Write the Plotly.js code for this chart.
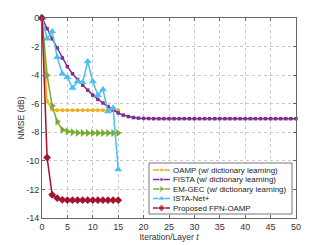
<!DOCTYPE html>
<html>
<head>
<meta charset="utf-8">
<script src="https://cdn.plot.ly/plotly-3.0.1.min.js"></script>
<style>html,body{margin:0;padding:0;background:#fff;}#chart{width:327px;height:245px;}</style>
</head>
<body>
<div id="chart"></div>
<script>
const tShort = [0,1,2,3,4,5,6,7,8,9,10,11,12,13,14,15];
const tLong = [0,1,2,3,4,5,6,7,8,9,10,11,12,13,14,15,16,17,18,19,20,21,22,23,24,25,26,27,28,29,30,31,32,33,34,35,36,37,38,39,40,41,42,43,44,45,46,47,48,49,50];
const oampVals = [0,-5.85,-6.4,-6.45,-6.45,-6.45,-6.45,-6.45,-6.45,-6.45,-6.45,-6.45,-6.45,-6.45,-6.45,-6.45];
const fistaVals = [0,-0.75,-1.45,-2.1,-2.8,-3.4,-3.9,-4.3,-4.7,-5.05,-5.4,-5.7,-5.95,-6.2,-6.45,-6.65,-6.8,-6.9,-6.97,-7.01,-7.03,-7.04,-7.05,-7.05,-7.05,-7.05,-7.05,-7.05,-7.05,-7.05,-7.05,-7.05,-7.05,-7.05,-7.05,-7.05,-7.05,-7.05,-7.05,-7.05,-7.05,-7.05,-7.05,-7.05,-7.05,-7.05,-7.05,-7.05,-7.05,-7.05,-7.05];
const emgecVals = [0,-4.0,-6.15,-7.25,-7.83,-7.95,-8.0,-8.03,-8.05,-8.05,-8.05,-8.05,-8.05,-8.05,-8.05,-8.05];
const istaVals = [0,-1.45,-0.95,-2.75,-3.9,-4.15,-4.9,-4.45,-4.5,-3.05,-4.45,-5.4,-5.0,-6.55,-6.3,-10.6];
const fpnVals = [0,-9.77,-12.38,-12.61,-12.73,-12.75,-12.75,-12.75,-12.75,-12.75,-12.75,-12.75,-12.75,-12.75,-12.75,-12.75];
const names = ['OAMP (w/ dictionary learning)','FISTA (w/ dictionary learning)','EM-GEC (w/ dictionary learning)','ISTA-Net+','Proposed FPN-OAMP'];
const xTicks = [0,5,10,15,20,25,30,35,40,45,50];
const yTicks = [0,-2,-4,-6,-8,-10,-12,-14];

const font = 'Liberation Sans, Arial, sans-serif';
const styles = [
  {color: '#EDB120', symbol: 'circle', size: 4},
  {color: '#7E2F8E', symbol: 'square', size: 3.5},
  {color: '#77AC30', symbol: 'triangle-right', size: 7},
  {color: '#4DBEEE', symbol: 'triangle-up', size: 7},
  {color: '#A2142F', symbol: 'diamond', size: 6}
];
const series = [[tShort, oampVals],[tLong, fistaVals],[tShort, emgecVals],[tShort, istaVals],[tShort, fpnVals]];
const data = series.map((s, i) => ({
  x: s[0], y: s[1], name: names[i], type: 'scatter', mode: 'lines+markers',
  line: {color: styles[i].color, width: 1.5},
  marker: {color: styles[i].color, symbol: styles[i].symbol, size: styles[i].size},
  cliponaxis: false, showlegend: false
}));

// custom compact legend on an overlay axis measured in pixels of the plot area
const legX0 = 107, legX1 = 250, legY0 = 4, legY1 = 55;
const sampleX = [111, 119.5, 128];
const rowY = [48, 38.5, 29, 19.5, 10];
data.push({x: [legX0, legX1, legX1, legX0, legX0], y: [legY0, legY0, legY1, legY1, legY0],
  xaxis: 'x2', yaxis: 'y2', type: 'scatter', mode: 'lines', fill: 'toself', fillcolor: '#ffffff',
  line: {color: '#777', width: 1}, showlegend: false, hoverinfo: 'skip'});
const annotations = [];
names.forEach((n, i) => {
  data.push({x: sampleX, y: [rowY[i], rowY[i], rowY[i]], xaxis: 'x2', yaxis: 'y2', type: 'scatter',
    mode: 'lines+markers', showlegend: false, hoverinfo: 'skip', cliponaxis: false,
    line: {color: styles[i].color, width: 1.5},
    marker: {color: styles[i].color, symbol: styles[i].symbol, size: [0, styles[i].size, 0]}});
  annotations.push({xref: 'x2', yref: 'y2', x: 129, y: rowY[i], xanchor: 'left', yanchor: 'middle',
    text: n, showarrow: false, font: {family: font, size: 7.9, color: '#222'}});
});

const axisCommon = {
  showline: true, mirror: 'ticks', linecolor: '#666', linewidth: 1,
  ticks: 'inside', ticklen: 3, tickcolor: '#666',
  showgrid: true, gridcolor: '#c8c8c8', griddash: 'dot', gridwidth: 1,
  zeroline: false, tickfont: {family: font, size: 9, color: '#333'}
};
const layout = {
  width: 327, height: 245,
  margin: {l: 42, r: 31, t: 18, b: 27},
  paper_bgcolor: '#fff', plot_bgcolor: '#fff',
  showlegend: false,
  xaxis: Object.assign({}, axisCommon, {range: [0, 50], tickvals: xTicks, ticktext: xTicks.map(String),
    title: {text: 'Iteration/Layer <i>t</i>', font: {family: font, size: 8.5, color: '#333'}, standoff: 2}}),
  yaxis: Object.assign({}, axisCommon, {range: [-14, 0], tickvals: yTicks, ticktext: yTicks.map(String),
    title: {text: 'NMSE (dB)', font: {family: font, size: 8.5, color: '#333'}, standoff: 0}}),
  xaxis2: {overlaying: 'x', range: [0, 254], visible: false, fixedrange: true},
  yaxis2: {overlaying: 'y', range: [0, 200], visible: false, fixedrange: true},
  annotations: annotations
};
Plotly.newPlot('chart', data, layout, {staticPlot: true, displayModeBar: false});
</script>
</body>
</html>
